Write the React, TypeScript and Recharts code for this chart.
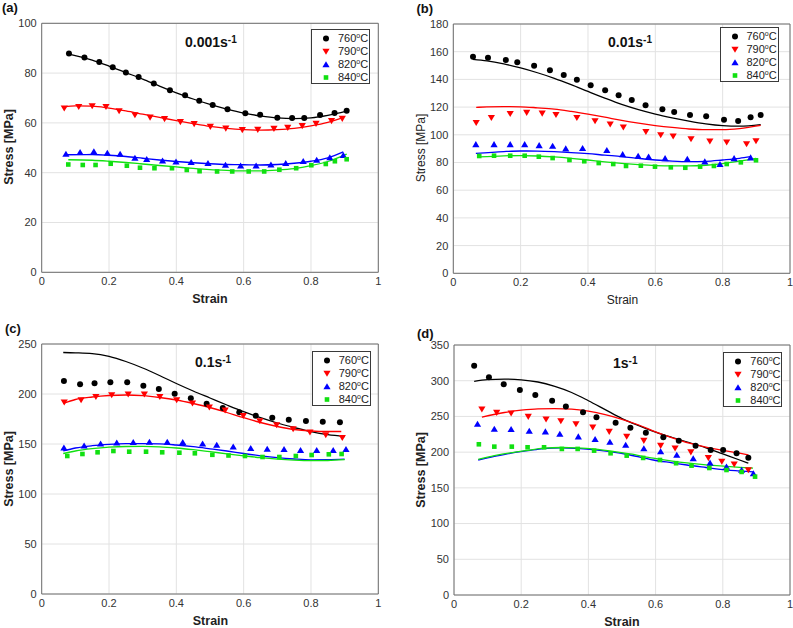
import React from "react";
import {
  ComposedChart,
  Line,
  Scatter,
  XAxis,
  YAxis,
  CartesianGrid,
  ReferenceArea,
} from "recharts";

type Pt = [number, number];

const temps = ["760", "790", "820", "840"];
const colors = ["#000000", "#ff0000", "#0000ff", "#11e011"];
const strainTicks = [0, 0.2, 0.4, 0.6, 0.8, 1];

// (a) 0.001 s-1 : measured points and model curves
const a760: Pt[] = [[0.081, 87.9], [0.127, 86.3], [0.171, 84.5], [0.211, 82.3], [0.25, 80.2], [0.288, 78.4], [0.333, 75.8], [0.381, 73.1], [0.426, 71.1], [0.468, 68.9], [0.508, 67.2], [0.552, 65.5], [0.605, 63.9], [0.649, 63.3], [0.7, 62.1], [0.744, 62.0], [0.78, 62.0], [0.827, 63.2], [0.87, 64.0], [0.906, 64.9]];
const a790: Pt[] = [[0.067, 65.9], [0.11, 66.5], [0.15, 66.8], [0.191, 66.5], [0.23, 64.8], [0.277, 63.2], [0.322, 62.2], [0.365, 61.6], [0.412, 60.4], [0.453, 59.6], [0.501, 58.5], [0.547, 57.8], [0.596, 57.2], [0.642, 57.3], [0.69, 57.7], [0.731, 58.1], [0.774, 58.8], [0.815, 59.7], [0.861, 60.8], [0.893, 61.7]];
const a820: Pt[] = [[0.072, 47.5], [0.114, 48.2], [0.155, 48.5], [0.195, 47.9], [0.233, 47.5], [0.277, 45.9], [0.312, 45.4], [0.359, 44.8], [0.399, 44.4], [0.444, 44.2], [0.494, 43.8], [0.546, 43.1], [0.591, 42.8], [0.637, 42.8], [0.681, 43.2], [0.725, 43.8], [0.777, 44.6], [0.817, 45.1], [0.856, 46.1], [0.896, 47.0]];
const a840: Pt[] = [[0.079, 43.3], [0.122, 43.1], [0.16, 43.1], [0.205, 43.6], [0.253, 42.8], [0.292, 42.0], [0.335, 41.8], [0.387, 41.8], [0.431, 41.1], [0.469, 40.6], [0.521, 40.5], [0.566, 40.5], [0.615, 40.5], [0.661, 40.5], [0.706, 41.2], [0.756, 41.8], [0.801, 43.0], [0.844, 43.5], [0.871, 44.6], [0.906, 45.4]];
const a760fit: Pt[] = [[0.081, 87.6], [0.15, 85.2], [0.2, 82.8], [0.25, 80.2], [0.3, 77.6], [0.35, 74.8], [0.4, 72.1], [0.45, 69.6], [0.5, 67.4], [0.55, 65.5], [0.6, 63.9], [0.65, 62.8], [0.7, 62.0], [0.75, 61.7], [0.8, 62.0], [0.85, 63.0], [0.906, 64.7]];
const a790fit: Pt[] = [[0.067, 66.4], [0.1, 66.8], [0.15, 66.7], [0.2, 65.9], [0.25, 64.8], [0.3, 63.5], [0.35, 62.2], [0.4, 60.9], [0.45, 59.7], [0.5, 58.6], [0.55, 57.8], [0.6, 57.3], [0.65, 57.1], [0.7, 57.3], [0.75, 57.8], [0.8, 58.8], [0.85, 60.2], [0.893, 62.0]];
const a820fit: Pt[] = [[0.072, 47.2], [0.15, 47.3], [0.2, 47.0], [0.25, 46.5], [0.3, 45.8], [0.35, 45.1], [0.4, 44.5], [0.45, 44.0], [0.5, 43.6], [0.55, 43.3], [0.6, 43.2], [0.65, 43.1], [0.7, 43.3], [0.75, 43.8], [0.8, 44.6], [0.85, 46.0], [0.896, 48.4]];
const a840fit: Pt[] = [[0.079, 45.2], [0.15, 45.0], [0.2, 44.6], [0.25, 44.1], [0.3, 43.5], [0.35, 42.9], [0.4, 42.3], [0.45, 41.7], [0.5, 41.2], [0.55, 40.9], [0.6, 40.7], [0.65, 40.7], [0.7, 41.0], [0.75, 41.6], [0.8, 42.8], [0.85, 44.5], [0.906, 47.5]];

// (b) 0.01 s-1
const b760: Pt[] = [[0.0585, 156.4], [0.103, 155.7], [0.156, 154.0], [0.19, 152.3], [0.24, 149.8], [0.287, 146.6], [0.328, 143.2], [0.367, 139.8], [0.408, 135.7], [0.451, 132.1], [0.491, 128.5], [0.53, 125.1], [0.571, 121.3], [0.621, 118.4], [0.656, 116.5], [0.703, 114.3], [0.751, 113.4], [0.804, 110.9], [0.846, 110.0], [0.883, 112.6], [0.913, 114.3]];
const b790: Pt[] = [[0.068, 108.7], [0.113, 112.3], [0.169, 115.2], [0.218, 116.0], [0.264, 115.5], [0.305, 114.5], [0.367, 112.3], [0.421, 110.0], [0.466, 107.6], [0.505, 105.4], [0.572, 102.2], [0.616, 99.9], [0.653, 98.9], [0.706, 97.0], [0.762, 95.3], [0.812, 94.6], [0.871, 93.4], [0.899, 95.5]];
const b820: Pt[] = [[0.067, 93.1], [0.121, 93.1], [0.169, 93.1], [0.212, 93.1], [0.255, 92.4], [0.295, 91.9], [0.334, 90.0], [0.384, 90.3], [0.456, 88.8], [0.503, 85.9], [0.549, 84.7], [0.58, 84.2], [0.629, 83.0], [0.695, 82.5], [0.747, 80.6], [0.792, 78.7], [0.834, 83.0], [0.883, 83.5]];
const b840: Pt[] = [[0.077, 84.7], [0.121, 84.9], [0.169, 84.9], [0.212, 84.9], [0.254, 84.2], [0.295, 83.2], [0.345, 81.8], [0.389, 80.9], [0.432, 79.6], [0.475, 78.9], [0.513, 77.5], [0.557, 77.7], [0.599, 77.0], [0.646, 76.5], [0.689, 76.2], [0.733, 77.0], [0.774, 77.5], [0.812, 78.9], [0.854, 80.1], [0.899, 81.6]];
const b760fit: Pt[] = [[0.058, 154.5], [0.1, 153.4], [0.15, 151.2], [0.2, 148.3], [0.25, 144.8], [0.3, 140.8], [0.35, 136.2], [0.4, 131.3], [0.45, 126.5], [0.5, 122.0], [0.55, 118.2], [0.6, 115.0], [0.65, 112.3], [0.7, 109.9], [0.75, 107.9], [0.8, 106.6], [0.85, 106.2], [0.913, 107.3]];
const b790fit: Pt[] = [[0.068, 119.8], [0.1, 120.1], [0.15, 120.3], [0.2, 120.2], [0.25, 119.5], [0.3, 118.6], [0.35, 116.9], [0.4, 114.9], [0.45, 112.7], [0.5, 110.4], [0.55, 108.4], [0.6, 106.7], [0.65, 105.3], [0.7, 104.2], [0.75, 103.7], [0.8, 103.7], [0.85, 104.5], [0.913, 106.8]];
const b820fit: Pt[] = [[0.067, 86.6], [0.15, 87.9], [0.2, 88.3], [0.25, 88.2], [0.3, 87.8], [0.35, 87.2], [0.4, 86.4], [0.45, 85.3], [0.5, 84.3], [0.55, 83.0], [0.6, 81.8], [0.65, 81.0], [0.7, 80.6], [0.75, 80.8], [0.8, 81.8], [0.85, 83.0], [0.883, 84.2]];
const b840fit: Pt[] = [[0.077, 84.0], [0.15, 84.8], [0.2, 85.0], [0.25, 84.7], [0.3, 84.0], [0.35, 83.0], [0.4, 81.8], [0.45, 80.5], [0.5, 79.4], [0.55, 78.5], [0.6, 77.8], [0.65, 77.5], [0.7, 77.5], [0.75, 78.0], [0.8, 79.2], [0.85, 81.0], [0.899, 83.0]];

// (c) 0.1 s-1
const c760: Pt[] = [[0.066, 213], [0.114, 209.7], [0.157, 210.7], [0.204, 211.7], [0.254, 211.7], [0.302, 208.3], [0.348, 205], [0.395, 200.3], [0.443, 195.7], [0.49, 190.3], [0.538, 186], [0.587, 181.7], [0.636, 178.3], [0.685, 176.3], [0.734, 174.3], [0.785, 173], [0.835, 172.3], [0.886, 171.7]];
const c790: Pt[] = [[0.067, 191.7], [0.117, 194], [0.161, 197.3], [0.208, 199], [0.257, 199.7], [0.305, 199.7], [0.351, 197.3], [0.401, 194], [0.448, 190.7], [0.498, 186.7], [0.545, 183.7], [0.599, 178.3], [0.648, 173], [0.698, 169], [0.747, 165], [0.797, 161.7], [0.844, 159], [0.893, 156.3]];
const c820: Pt[] = [[0.066, 146.3], [0.126, 148.3], [0.175, 150.3], [0.223, 151.3], [0.272, 151.7], [0.32, 152], [0.373, 152], [0.419, 151.7], [0.478, 150.3], [0.52, 149], [0.569, 147.3], [0.621, 145.7], [0.67, 145], [0.72, 144.7], [0.769, 143.7], [0.817, 143.7], [0.866, 143.7], [0.904, 144.7]];
const c840: Pt[] = [[0.076, 138], [0.121, 140], [0.166, 141.7], [0.213, 143], [0.26, 142.3], [0.31, 142.3], [0.358, 141.7], [0.409, 141.3], [0.455, 140.7], [0.507, 139.2], [0.555, 138.5], [0.604, 138], [0.656, 137], [0.706, 137], [0.755, 138], [0.802, 139], [0.853, 139.7], [0.891, 140]];
const c760fit: Pt[] = [[0.064, 241.5], [0.1, 241.2], [0.15, 240.4], [0.2, 237.6], [0.25, 232.5], [0.3, 226], [0.35, 218.5], [0.4, 210.5], [0.45, 203], [0.5, 196], [0.55, 189], [0.6, 182.3], [0.65, 176.3], [0.7, 171], [0.75, 166.5], [0.8, 162.3], [0.85, 159.3], [0.9, 157.5]];
const c790fit: Pt[] = [[0.064, 190.5], [0.1, 194.5], [0.15, 197], [0.2, 198.5], [0.25, 199], [0.3, 198.3], [0.35, 196.5], [0.4, 194], [0.45, 190.5], [0.5, 186.5], [0.55, 181.5], [0.6, 176.3], [0.65, 171.5], [0.7, 167.5], [0.75, 164.5], [0.8, 163], [0.85, 162.5], [0.89, 162.5]];
const c820fit: Pt[] = [[0.064, 143], [0.1, 146], [0.15, 148.3], [0.2, 149.6], [0.25, 150.3], [0.3, 150.4], [0.35, 150.2], [0.4, 149], [0.45, 147.3], [0.5, 145.2], [0.55, 143], [0.6, 140.5], [0.65, 138.2], [0.7, 136.3], [0.75, 135], [0.8, 134.2], [0.85, 134.3], [0.9, 134.8]];
const c840fit: Pt[] = [[0.064, 140.5], [0.1, 143], [0.15, 145.3], [0.2, 146.8], [0.25, 147.5], [0.3, 147.6], [0.35, 147.2], [0.4, 146], [0.45, 144.3], [0.5, 142.3], [0.55, 140.2], [0.6, 138.2], [0.65, 136.3], [0.7, 134.8], [0.75, 133.8], [0.8, 133.3], [0.85, 133.5], [0.9, 134.3]];

// (d) 1 s-1
const d760: Pt[] = [[0.06, 321], [0.104, 305], [0.148, 295], [0.196, 287], [0.242, 280], [0.292, 272], [0.333, 264], [0.384, 256], [0.424, 249], [0.481, 241], [0.525, 234], [0.571, 227], [0.623, 221], [0.669, 216], [0.719, 209], [0.764, 203], [0.801, 203], [0.841, 198.5], [0.876, 192]];
const d790: Pt[] = [[0.083, 260.1], [0.127, 255.3], [0.17, 254.5], [0.221, 249.7], [0.274, 246.1], [0.318, 243.7], [0.363, 239.5], [0.413, 234.9], [0.462, 228.7], [0.514, 222], [0.565, 216.1], [0.615, 209.1], [0.658, 205.4], [0.705, 200], [0.757, 192], [0.797, 187], [0.834, 183], [0.876, 175]];
const d820: Pt[] = [[0.07, 239.5], [0.12, 232.5], [0.17, 232.1], [0.224, 229.7], [0.272, 228.7], [0.315, 225.5], [0.37, 221.7], [0.42, 218.1], [0.464, 214.3], [0.511, 210], [0.565, 205], [0.615, 201], [0.663, 196], [0.712, 191], [0.762, 185], [0.811, 179.5], [0.856, 175], [0.891, 170]];
const d840: Pt[] = [[0.074, 211], [0.12, 207.7], [0.172, 207.7], [0.219, 206.8], [0.268, 206.8], [0.321, 204.5], [0.368, 204.5], [0.417, 202.1], [0.466, 198.4], [0.514, 195.1], [0.563, 191.9], [0.613, 189], [0.661, 184.5], [0.707, 181.1], [0.76, 177.8], [0.811, 175], [0.856, 172.3], [0.896, 165.7]];
const d760fit: Pt[] = [[0.06, 299], [0.1, 301.5], [0.15, 302.2], [0.2, 301.3], [0.25, 298.2], [0.3, 292], [0.35, 283.5], [0.4, 272], [0.45, 259.5], [0.5, 247], [0.55, 237], [0.6, 228], [0.65, 220.5], [0.7, 213.5], [0.75, 206], [0.8, 197.5], [0.85, 189], [0.876, 184.5]];
const d790fit: Pt[] = [[0.083, 249], [0.15, 255.5], [0.2, 258.8], [0.25, 260.7], [0.3, 261], [0.35, 260.2], [0.4, 257.3], [0.45, 252.5], [0.5, 246], [0.55, 238], [0.6, 228.5], [0.65, 220], [0.7, 212.5], [0.75, 207], [0.8, 202.5], [0.85, 198.5], [0.876, 196]];
const d820fit: Pt[] = [[0.072, 189], [0.12, 194], [0.167, 198.4], [0.22, 202], [0.266, 205], [0.32, 206], [0.365, 205.2], [0.42, 203.3], [0.464, 200.7], [0.524, 196], [0.593, 189], [0.65, 185], [0.693, 182], [0.75, 178.5], [0.792, 176], [0.85, 173.8], [0.89, 172.5]];
const d840fit: Pt[] = [[0.072, 190], [0.12, 195], [0.167, 199], [0.22, 202.5], [0.266, 205.5], [0.32, 206.5], [0.365, 206], [0.42, 204.3], [0.464, 201.8], [0.524, 197.5], [0.593, 191.5], [0.65, 187.5], [0.693, 185], [0.75, 182.3], [0.792, 180.7], [0.85, 178.8], [0.89, 177.5]];

const toRows = (pts: Pt[]) => pts.map(([x, y]) => ({ x, y }));

const FONT = '"Liberation Sans", Arial, Helvetica, sans-serif';
const TICK = { fontSize: 11, fill: "#333", fontFamily: FONT };

function Marker({ kind, cx, cy, color }: any) {
  if (cx == null || cy == null) return <g />;
  if (kind === 0) return <circle cx={cx} cy={cy} r={3} fill={color} />;
  if (kind === 1)
    return <polygon points={`${cx - 3.6},${cy - 2.8} ${cx + 3.6},${cy - 2.8} ${cx},${cy + 3.3}`} fill={color} />;
  if (kind === 2)
    return <polygon points={`${cx - 3.6},${cy + 2.8} ${cx + 3.6},${cy + 2.8} ${cx},${cy - 3.3}`} fill={color} />;
  return <rect x={cx - 2.3} y={cy - 2.3} width={4.6} height={4.6} fill={color} />;
}

type PanelProps = {
  left: number;
  top: number;
  width: number;
  height: number;
  margin: { top: number; right: number; bottom: number; left: number };
  yAxisWidth: number;
  yMax: number;
  yTicks: number[];
  points: Pt[][];
  fits: Pt[][];
};

function Panel(p: PanelProps) {
  return (
    <div style={{ position: "absolute", left: p.left, top: p.top }}>
      <ComposedChart width={p.width} height={p.height} margin={p.margin}>
        <CartesianGrid stroke="#e2e2e2" />
        <XAxis
          type="number"
          dataKey="x"
          domain={[0, 1]}
          ticks={strainTicks}
          interval={0}
          tick={TICK}
          tickLine={false}
          axisLine={false}
          tickSize={3}
          tickMargin={2}
          height={20}
        />
        <YAxis
          type="number"
          dataKey="y"
          domain={[0, p.yMax]}
          ticks={p.yTicks}
          interval={0}
          tick={TICK}
          tickLine={false}
          axisLine={false}
          tickSize={3}
          tickMargin={2}
          width={p.yAxisWidth}
        />
        <ReferenceArea x1={0} x2={1} y1={0} y2={p.yMax} fill="none" stroke="#6f6f6f" strokeWidth={1} />
        {p.fits.map((f, i) => (
          <Line
            key={"f" + i}
            data={toRows(f)}
            dataKey="y"
            type="monotone"
            stroke={colors[i]}
            strokeWidth={1.3}
            dot={false}
            activeDot={false}
            isAnimationActive={false}
          />
        ))}
        {p.points.map((s, i) => (
          <Scatter
            key={"s" + i}
            data={toRows(s)}
            dataKey="y"
            isAnimationActive={false}
            shape={(sp: any) => <Marker kind={i} cx={sp.cx} cy={sp.cy} color={colors[i]} />}
          />
        ))}
      </ComposedChart>
    </div>
  );
}

function LegendBox({ left, top }: { left: number; top: number }) {
  return (
    <div
      style={{
        position: "absolute",
        left,
        top,
        width: 59,
        height: 55,
        border: "1px solid #3a3a3a",
        background: "#fff",
        boxSizing: "border-box",
        fontFamily: FONT,
        fontSize: 11,
        color: "#222",
      }}
    >
      {temps.map((t, i) => (
        <div key={t} style={{ position: "absolute", left: 0, top: 1.5 + i * 13, height: 13, width: 59 }}>
          <svg width={20} height={13} style={{ position: "absolute", left: 4, top: 0 }}>
            <Marker kind={i} cx={10} cy={6.5} color={colors[i]} />
          </svg>
          <span style={{ position: "absolute", left: 26, top: 0, lineHeight: "13px", whiteSpace: "nowrap" }}>
            {t}
            <span style={{ fontSize: 7, position: "relative", top: -3.5 }}>o</span>C
          </span>
        </div>
      ))}
    </div>
  );
}

function Title({ left, top, text }: { left: number; top: number; text: string }) {
  return (
    <div
      style={{
        position: "absolute",
        left,
        top,
        fontFamily: FONT,
        fontWeight: "bold",
        fontSize: 14,
        lineHeight: "14px",
        whiteSpace: "nowrap",
        color: "#111",
      }}
    >
      {text}
      <span style={{ fontSize: 10, position: "relative", top: -4 }}>-1</span>
    </div>
  );
}

function AxisLabel({ x, y, text, bold, rotate }: { x: number; y: number; text: string; bold: boolean; rotate?: boolean }) {
  return (
    <div
      style={{
        position: "absolute",
        left: x,
        top: y,
        transform: `translate(-50%, -50%)${rotate ? " rotate(-90deg)" : ""}`,
        fontFamily: FONT,
        fontWeight: bold ? "bold" : "normal",
        fontSize: bold ? 12.5 : 12,
        lineHeight: "14px",
        whiteSpace: "nowrap",
        color: "#222",
      }}
    >
      {text}
    </div>
  );
}

function Letter({ x, y, text }: { x: number; y: number; text: string }) {
  return (
    <div
      style={{
        position: "absolute",
        left: x,
        top: y,
        fontFamily: FONT,
        fontWeight: "bold",
        fontSize: 13,
        lineHeight: "14px",
        color: "#111",
      }}
    >
      {text}
    </div>
  );
}

export default function App() {
  return (
    <div style={{ position: "absolute", left: 0, top: 0, width: 793, height: 628, background: "#fff", overflow: "hidden" }}>
      <Panel
        left={0}
        top={0}
        width={396}
        height={310}
        margin={{ top: 23.3, right: 17.7, bottom: 17.7, left: 0 }}
        yAxisWidth={41.7}
        yMax={100}
        yTicks={[0, 20, 40, 60, 80, 100]}
        points={[a760, a790, a820, a840]}
        fits={[a760fit, a790fit, a820fit, a840fit]}
      />
      <Panel
        left={400}
        top={0}
        width={393}
        height={310}
        margin={{ top: 24, right: 3, bottom: 16.7, left: 0 }}
        yAxisWidth={53.3}
        yMax={180}
        yTicks={[0, 20, 40, 60, 80, 100, 120, 140, 160, 180]}
        points={[b760, b790, b820, b840]}
        fits={[b760fit, b790fit, b820fit, b840fit]}
      />
      <Panel
        left={0}
        top={310}
        width={396}
        height={318}
        margin={{ top: 34, right: 17.7, bottom: 14, left: 0 }}
        yAxisWidth={41.7}
        yMax={250}
        yTicks={[0, 50, 100, 150, 200, 250]}
        points={[c760, c790, c820, c840]}
        fits={[c760fit, c790fit, c820fit, c840fit]}
      />
      <Panel
        left={400}
        top={310}
        width={393}
        height={318}
        margin={{ top: 35, right: 3, bottom: 13, left: 0 }}
        yAxisWidth={54}
        yMax={350}
        yTicks={[0, 50, 100, 150, 200, 250, 300, 350]}
        points={[d760, d790, d820, d840]}
        fits={[d760fit, d790fit, d820fit, d840fit]}
      />

      <Letter x={2} y={1} text="(a)" />
      <Letter x={416.5} y={1.5} text="(b)" />
      <Letter x={5} y={322} text="(c)" />
      <Letter x={417} y={327} text="(d)" />

      <Title left={185} top={35} text="0.001s" />
      <Title left={608} top={35} text="0.01s" />
      <Title left={195} top={355} text="0.1s" />
      <Title left={613} top={356.3} text="1s" />

      <LegendBox left={311} top={29.3} />
      <LegendBox left={719.5} top={27.3} />
      <LegendBox left={311.7} top={351.3} />
      <LegendBox left={723.3} top={352} />

      <AxisLabel x={210} y={299.3} text="Strain" bold />
      <AxisLabel x={622.5} y={300} text="Strain" bold={false} />
      <AxisLabel x={210.5} y={621} text="Strain" bold />
      <AxisLabel x={622} y={622} text="Strain" bold />

      <AxisLabel x={8.7} y={147} text="Stress [MPa]" bold rotate />
      <AxisLabel x={421} y={148} text="Stress [MPa]" bold={false} rotate />
      <AxisLabel x={9} y={469} text="Stress [MPa]" bold rotate />
      <AxisLabel x={421} y={470.3} text="Stress [MPa]" bold rotate />
    </div>
  );
}
